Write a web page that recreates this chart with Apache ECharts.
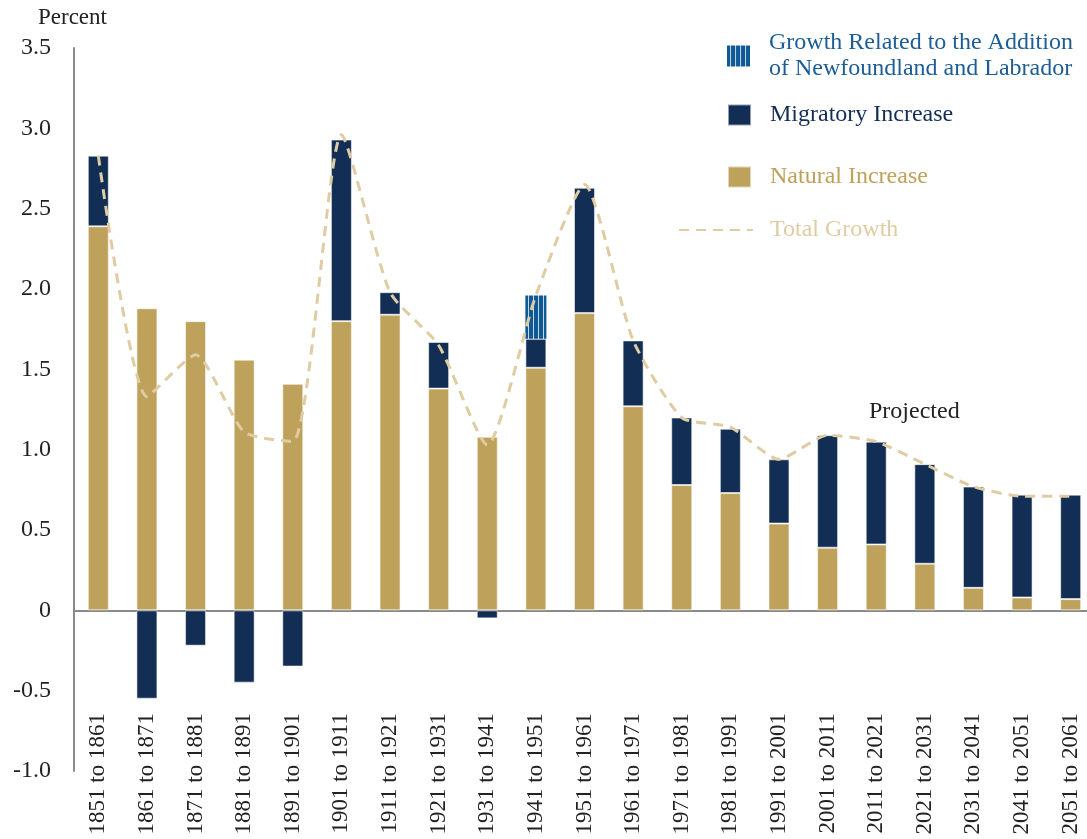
<!DOCTYPE html>
<html>
<head>
<meta charset="utf-8">
<script src="https://cdn.jsdelivr.net/npm/echarts@6/dist/echarts.min.js"></script>
<style>
  html, body { margin: 0; padding: 0; background: #fff; }
  #chart { width: 1087px; height: 839px; }
</style>
</head>
<body>
<div id="chart"></div>
<script>
// 数据
const periods = [
  '1851 to 1861', '1861 to 1871', '1871 to 1881', '1881 to 1891', '1891 to 1901',
  '1901 to 1911', '1911 to 1921', '1921 to 1931', '1931 to 1941', '1941 to 1951',
  '1951 to 1961', '1961 to 1971', '1971 to 1981', '1981 to 1991', '1991 to 2001',
  '2001 to 2011', '2011 to 2021', '2021 to 2031', '2031 to 2041', '2041 to 2051',
  '2051 to 2061'
];
const naturalIncrease = [2.39, 1.88, 1.80, 1.56, 1.41, 1.80, 1.84, 1.38, 1.08, 1.51,
  1.85, 1.27, 0.78, 0.73, 0.54, 0.39, 0.41, 0.29, 0.14, 0.08, 0.07];
const migratoryIncrease = [0.44, -0.55, -0.22, -0.45, -0.35, 1.13, 0.14, 0.29, -0.05, 0.18,
  0.78, 0.41, 0.42, 0.40, 0.40, 0.70, 0.64, 0.62, 0.63, 0.64, 0.65];
const newfoundland = [null, null, null, null, null, null, null, null, null, 0.27,
  null, null, null, null, null, null, null, null, null, null, null];
const totalGrowth = [2.83, 1.33, 1.59, 1.11, 1.05, 2.96, 1.98, 1.65, 1.03, 1.96,
  2.65, 1.68, 1.20, 1.14, 0.94, 1.09, 1.05, 0.91, 0.77, 0.71, 0.71];

const NAVY = '#132e55';
const TAN = '#bea25c';
const BLUE = '#0f5a94';
const LINE_TAN = '#dfcca2';
const FONT = 'Liberation Serif';

// 竖条纹填充
function stripePattern() {
  const c = document.createElement('canvas');
  c.width = 5; c.height = 10;
  const ctx = c.getContext('2d');
  ctx.fillStyle = BLUE;
  ctx.fillRect(0, 0, 5, 10);
  ctx.fillStyle = '#c5d8e8';
  ctx.fillRect(3, 0, 1, 10);
  return { image: c, repeat: 'repeat' };
}

const chart = echarts.init(document.getElementById('chart'));

const barBorder = { borderColor: 'rgba(255,255,255,0.55)', borderWidth: 1 };
const legendText = { fontFamily: FONT, fontSize: 24, lineHeight: 26, padding: [0, 0, 0, 14] };

chart.setOption({
  animation: false,
  textStyle: { fontFamily: FONT },
  grid: { left: 74, right: -8, top: 48, bottom: 68, containLabel: false, outerBoundsMode: 'none' },
  legend: [
    {
      data: [{ name: 'Growth Related to the Addition\nof Newfoundland and Labrador',
        textStyle: { color: '#1c5d95' } }],
      left: 727, top: 30, padding: 0, icon: 'rect', itemWidth: 23, itemHeight: 21,
      textStyle: legendText
    },
    {
      data: [{ name: 'Migratory Increase', textStyle: { color: NAVY } }],
      left: 727, top: 102, padding: 0, icon: 'rect', itemWidth: 23, itemHeight: 21,
      textStyle: legendText
    },
    {
      data: [{ name: 'Natural Increase', textStyle: { color: TAN } }],
      left: 727, top: 164, padding: 0, icon: 'rect', itemWidth: 23, itemHeight: 21,
      textStyle: legendText
    },
    {
      data: [{ name: 'Total Growth', textStyle: { color: LINE_TAN } }],
      left: 678, top: 217, padding: 0, itemWidth: 74, itemHeight: 21,
      itemStyle: { opacity: 0 },
      textStyle: Object.assign({}, legendText, { padding: [0, 0, 0, 12] })
    }
  ],
  graphic: [
    { type: 'text', left: 38, top: 6,
      style: { text: 'Percent', font: '23px "Liberation Serif"', fill: '#222' } },
    { type: 'text', left: 869, top: 400,
      style: { text: 'Projected', font: '24px "Liberation Serif"', fill: '#222' } }
  ],
  xAxis: {
    type: 'category',
    data: periods,
    axisLine: { onZero: true, lineStyle: { color: '#8a8a8a', width: 2 } },
    axisTick: { show: false },
    axisLabel: { interval: 0, rotate: 90, margin: -58, fontSize: 23, color: '#222', fontFamily: FONT }
  },
  yAxis: {
    type: 'value',
    min: -1, max: 3.5, interval: 0.5,
    splitLine: { show: false },
    axisLine: { show: true, lineStyle: { color: '#8a8a8a', width: 2 } },
    axisTick: { show: false },
    axisLabel: {
      margin: 23, fontSize: 24, color: '#222', fontFamily: FONT,
      formatter: v => (v === 0 ? '0' : v.toFixed(1))
    }
  },
  series: [
    {
      name: 'Natural Increase', type: 'bar', stack: 'g', barWidth: 21,
      itemStyle: Object.assign({ color: TAN }, barBorder),
      data: naturalIncrease
    },
    {
      name: 'Migratory Increase', type: 'bar', stack: 'g', barWidth: 21,
      itemStyle: Object.assign({ color: NAVY }, barBorder),
      data: migratoryIncrease
    },
    {
      name: 'Growth Related to the Addition\nof Newfoundland and Labrador', type: 'bar', stack: 'g', barWidth: 21,
      itemStyle: { color: stripePattern() },
      data: newfoundland
    },
    {
      name: 'Total Growth', type: 'line', smooth: 0.2, symbol: 'none',
      lineStyle: { color: LINE_TAN, width: 3, type: [10, 7] },
      itemStyle: { color: LINE_TAN },
      z: 5,
      data: totalGrowth
    }
  ]
});
</script>
</body>
</html>
